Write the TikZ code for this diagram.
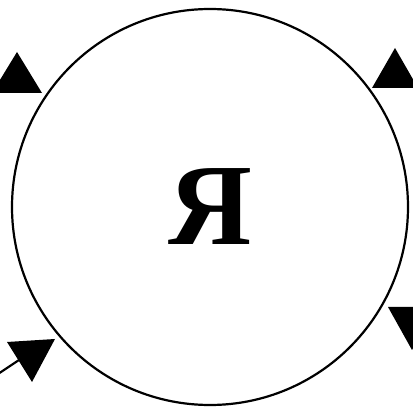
\documentclass[tikz,border=0pt]{standalone}
\usepackage{fontspec}
\newfontfamily\cyrserif{Liberation Serif}
\begin{document}
\begin{tikzpicture}[x=0.5pt,y=-0.5pt,line width=1.1pt,
  tipfill/.style={fill=black,draw=none}]
  \useasboundingbox (0,0) rectangle (413,411);
  \node[draw,circle,inner sep=0pt,minimum size=198pt,
    font=\cyrserif\bfseries\fontsize{58}{58}\selectfont] (ya) at (210,207) {Я};
  % arrow heads cut off at the edges
  \foreach \ax/\ay/\bx/\by/\cx/\cy in {17/52/-8/93/42/93,
      395/48/372/88/418/88, 388/307/436/307/412/350, 7/342/55/339/32/382}{
    \fill[tipfill] (\ax,\ay) -- (\bx,\by) -- (\cx,\cy) -- cycle;
  }
  \coordinate (inl) at (-2,374);
  \coordinate (tipbl) at (22,358);
  \draw (inl) -- (tipbl);
\end{tikzpicture}
\end{document}
